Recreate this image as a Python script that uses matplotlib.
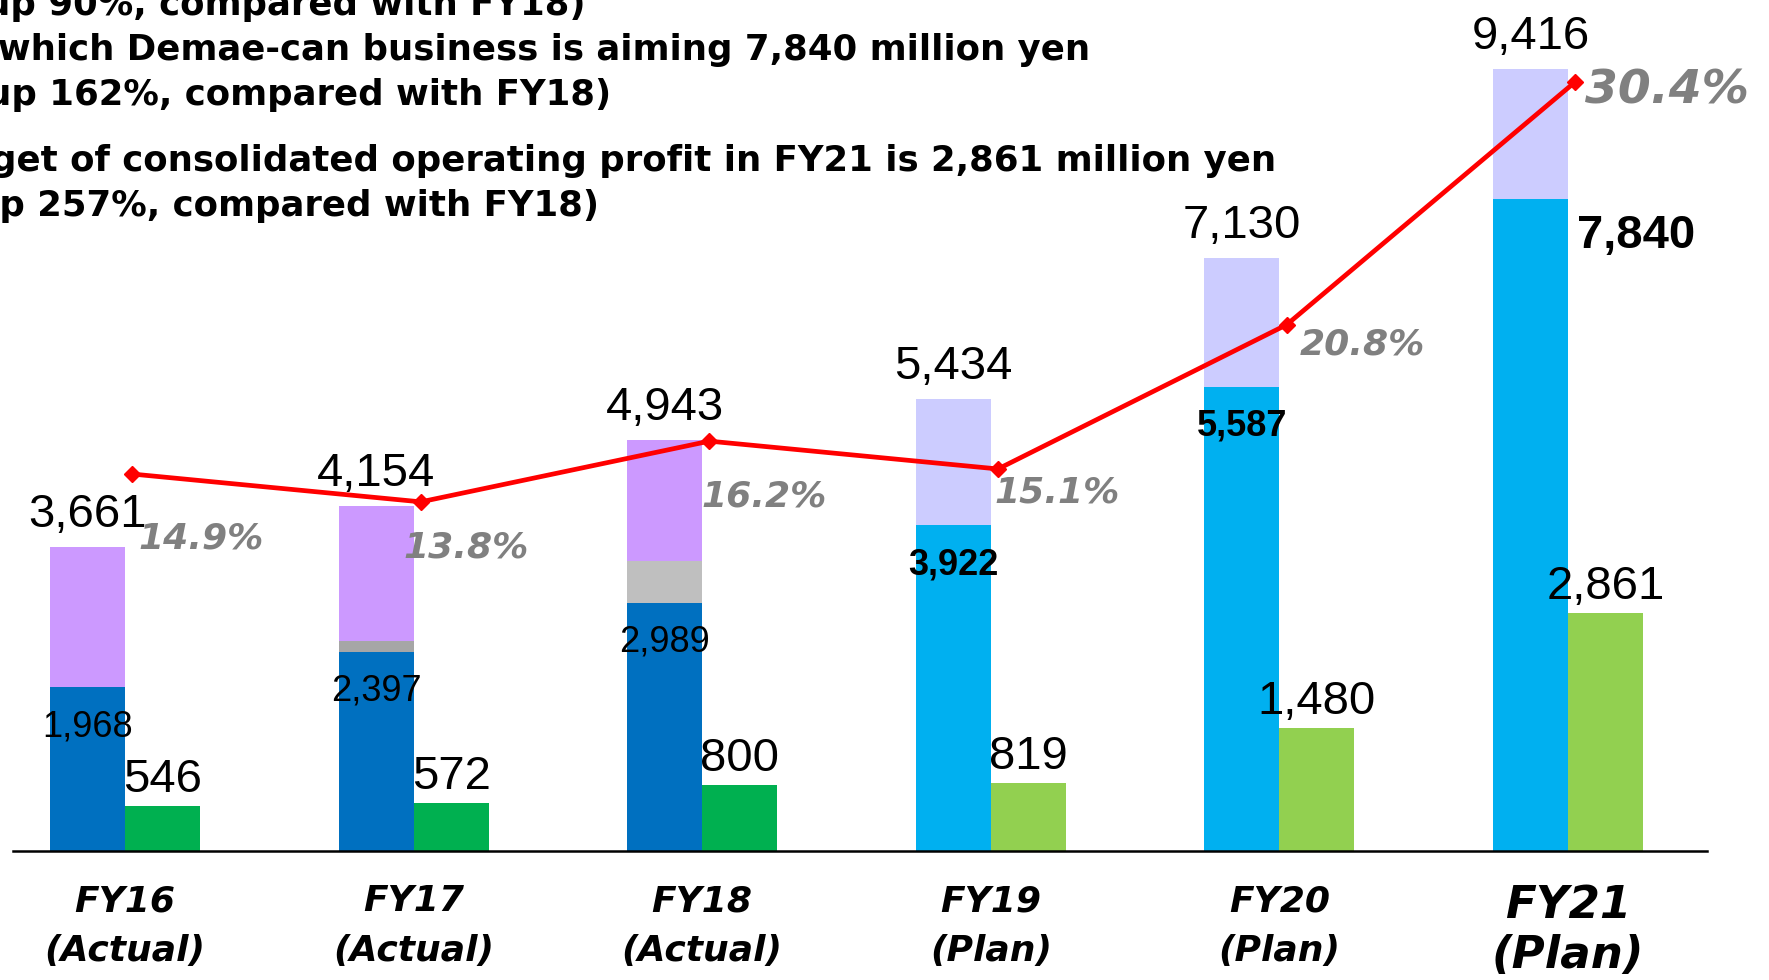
import matplotlib.pyplot as plt
import numpy as np

years = ["FY16\n(Actual)", "FY17\n(Actual)", "FY18\n(Actual)",
         "FY19\n(Plan)", "FY20\n(Plan)", "FY21\n(Plan)"]
net_sales = [3661, 4154, 4943, 5434, 7130, 9416]
demaecan = [1968, 2397, 2989, 3922, 5587, 7840]
other_biz = [0, 130, 500, 0, 0, 0]
op_profit = [546, 572, 800, 819, 1480, 2861]
op_margin = [14.9, 13.8, 16.2, 15.1, 20.8, 30.4]

notes = ["(up 90%, compared with FY18)",
         "Of which Demae-can business is aiming 7,840 million yen",
         "(up 162%, compared with FY18)",
         "Target of consolidated operating profit in FY21 is 2,861 million yen",
         "(up 257%, compared with FY18)"]

# colours: actual years darker, plan years lighter
blue = ['#0070C0'] * 3 + ['#00B0F0'] * 3
grey = ['#A6A6A6', '#A6A6A6', '#BFBFBF', '#BFBFBF', '#BFBFBF', '#BFBFBF']
rest_col = ['#CC99FF'] * 3 + ['#CCCCFF'] * 3
green = ['#00B050'] * 3 + ['#92D050'] * 3

W, H = 1769, 980
PT = 72 / 100  # points per pixel

fig = plt.figure(figsize=(W / 100, H / 100), dpi=100)
base = 851
ax = fig.add_axes([0, (H - base) / H, 1, base / H])
step = 288.6
x0 = 125
ax.set_xlim(-x0 / step, (W - x0) / step)
ax.set_ylim(0, base / 0.0831)

x = np.arange(len(years))
w = 75 / step
sales = np.array(net_sales)
core = np.array(demaecan)
other = np.array(other_biz)
rest = sales - core - other

ax.bar(x - w / 2, core, w, color=blue, linewidth=0)
ax.bar(x - w / 2, other, w, bottom=core, color=grey, linewidth=0)
ax.bar(x - w / 2, rest, w, bottom=core + other, color=rest_col, linewidth=0)
ax.bar(x + w / 2, op_profit, w, color=green, linewidth=0)

ax.axhline(0, xmin=13 / W, xmax=1707 / W, color='black', lw=1.8, clip_on=False)

num = dict(family='Liberation Sans', color='black')
for i in range(len(x)):
    ax.annotate(f"{net_sales[i]:,}", (x[i] - w / 2, net_sales[i]),
                xytext=(0, 20 * PT), textcoords='offset points',
                ha='center', va='baseline', fontsize=34, **num)
    ax.annotate(f"{op_profit[i]:,}", (x[i] + w / 2, op_profit[i]),
                xytext=(0, 14 * PT), textcoords='offset points',
                ha='center', va='baseline', fontsize=34, **num)
    if i < 5:
        ax.annotate(f"{demaecan[i]:,}", (x[i] - w / 2, demaecan[i]),
                    xytext=(0, -22 * PT), textcoords='offset points',
                    ha='center', va='top', fontsize=26,
                    fontweight='bold' if i >= 3 else 'normal', **num)
    else:
        ax.annotate(f"{demaecan[i]:,}", (x[i], demaecan[i]),
                    xytext=(9 * PT, -37 * PT), textcoords='offset points',
                    ha='left', va='center', fontsize=34, fontweight='bold', **num)

ax.set_xticks(x, years, family='DejaVu Sans', fontweight='bold',
              fontstyle='italic', fontsize=26, linespacing=1.57)
labs = ax.get_xticklabels()
labs[-1].set_fontsize(32.5)
labs[-1].set_linespacing(1.2)
ax.tick_params(axis='x', length=0, pad=24)
ax.set_yticks([])

ax2 = ax.twinx()
ax2.set_ylim(0, base / 25.3)
ax2.set_yticks([])
xl = x + 0.025
ax2.plot(xl, op_margin, color='#FF0000', lw=3.4, marker='D', ms=8)

pct_dx = [6, -17, -8, -4, 13, 10]
pct_dy = [-64, -46, -55, -24, -20, -9]
for i in range(len(x)):
    ax2.annotate(f"{op_margin[i]}%", (xl[i], op_margin[i]),
                 xytext=(pct_dx[i] * PT, pct_dy[i] * PT), textcoords='offset points',
                 ha='left', va='center', color='#808080', family='DejaVu Sans',
                 fontweight='bold', fontstyle='italic',
                 fontsize=34 if i == 5 else 26)

for a in (ax, ax2):
    for s in a.spines.values():
        s.set_visible(False)

note_end = [585, 1090, 611, 1276, 599]
note_base = [15, 60, 105, 171, 216]
for s, xe, yb in zip(notes, note_end, note_base):
    fig.text(xe / W, 1 - yb / H, s, ha='right', va='baseline', fontsize=25.6,
             fontweight='bold', family='DejaVu Sans')

fig.savefig('out.png', dpi=100)
